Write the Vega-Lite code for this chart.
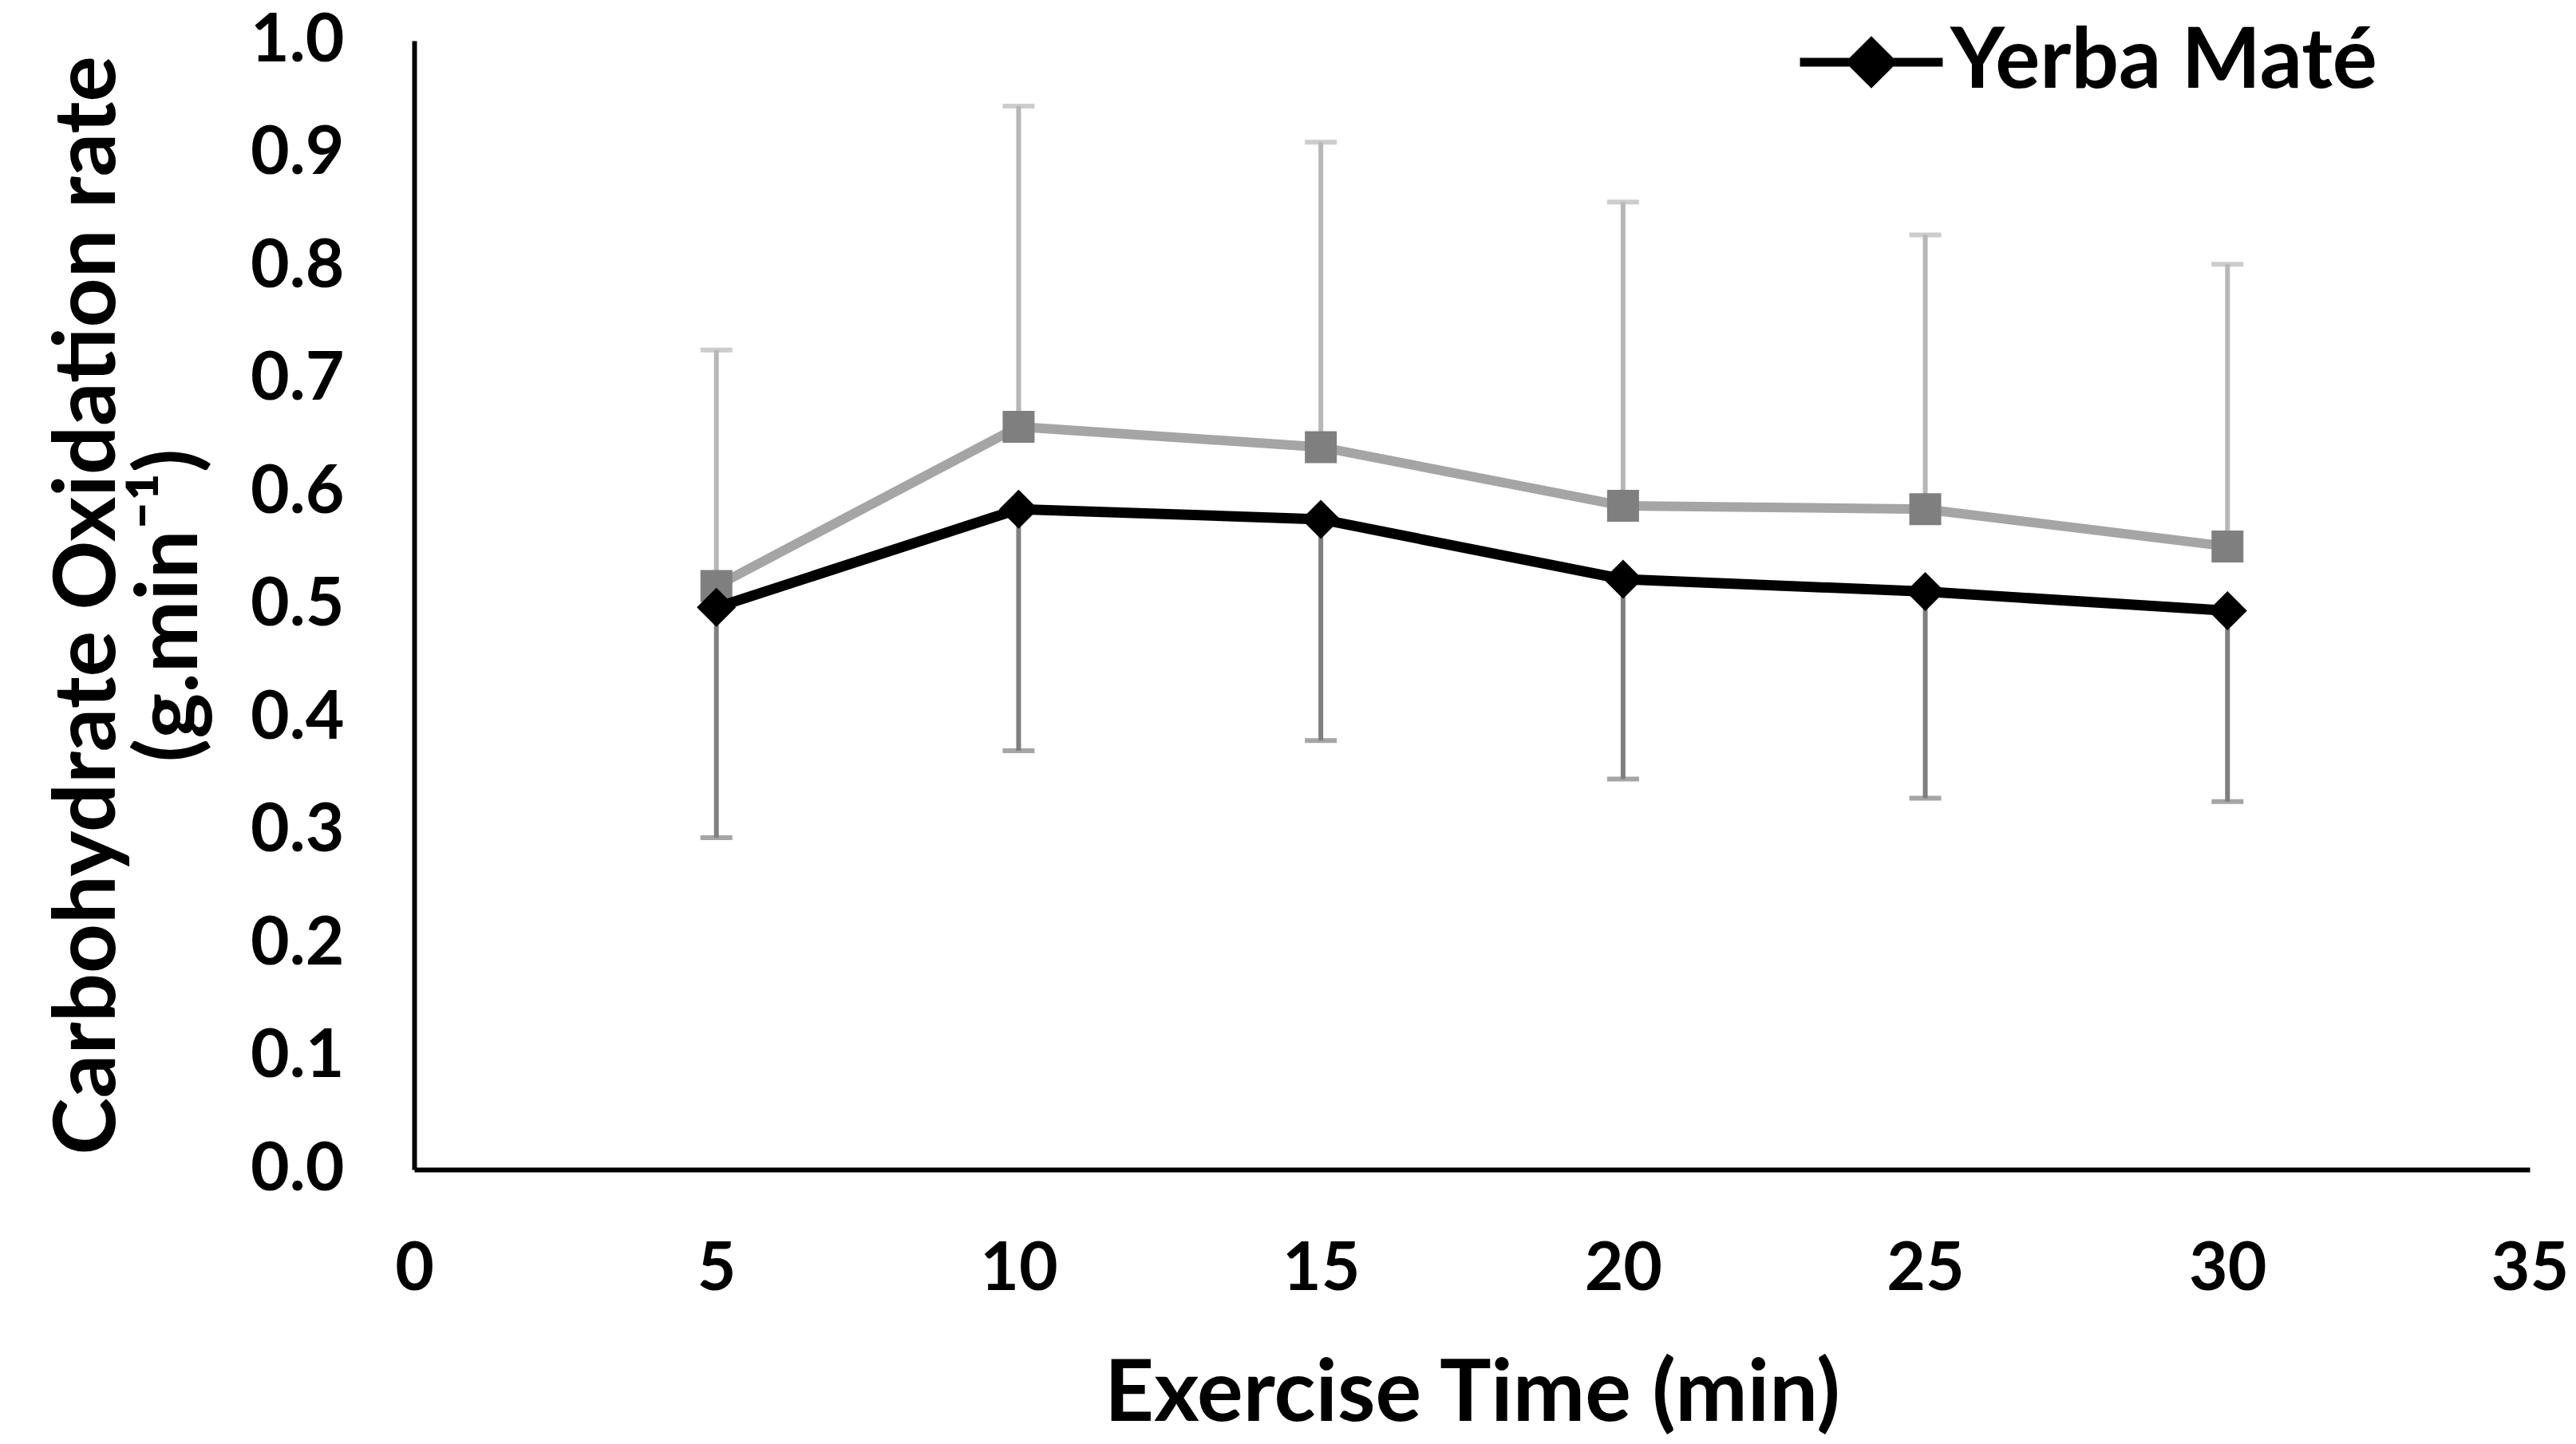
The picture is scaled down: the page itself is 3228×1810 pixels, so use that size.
{
  "$schema": "https://vega.github.io/schema/vega-lite/v6.json",
  "width": 2651,
  "height": 1415,
  "autosize": {"type": "none"},
  "padding": {"left": 519, "top": 51, "right": 58, "bottom": 344},
  "background": "white",
  "config": {
    "view": {"stroke": null},
    "font": "Lato",
    "axis": {
      "domainColor": "black",
      "domainWidth": 6,
      "ticks": false,
      "tickSize": 0,
      "grid": false,
      "labelFont": "Lato",
      "labelFontSize": 84,
      "labelFontWeight": "bold",
      "labelColor": "black",
      "titleFont": "Lato",
      "titleFontSize": 108,
      "titleFontWeight": "bold",
      "titleColor": "black"
    }
  },
  "data": {
    "values": [
      {"time": 5, "ym": 0.498, "ym_lo": 0.294, "pl": 0.517, "pl_hi": 0.726},
      {"time": 10, "ym": 0.585, "ym_lo": 0.371, "pl": 0.658, "pl_hi": 0.942},
      {"time": 15, "ym": 0.576, "ym_lo": 0.380, "pl": 0.640, "pl_hi": 0.910},
      {"time": 20, "ym": 0.523, "ym_lo": 0.346, "pl": 0.588, "pl_hi": 0.857},
      {"time": 25, "ym": 0.512, "ym_lo": 0.329, "pl": 0.585, "pl_hi": 0.828},
      {"time": 30, "ym": 0.495, "ym_lo": 0.326, "pl": 0.552, "pl_hi": 0.802}
    ]
  },
  "encoding": {
    "x": {
      "field": "time",
      "type": "quantitative",
      "scale": {"domain": [0, 35], "nice": false, "zero": true},
      "axis": {
        "title": "Exercise Time (min)",
        "values": [0, 5, 10, 15, 20, 25, 30, 35],
        "labelPadding": 84,
        "titlePadding": 62,
        "labelFlush": false
      }
    }
  },
  "layer": [
    {
      "mark": {"type": "rule", "color": "#B7B7B7", "strokeWidth": 6},
      "encoding": {
        "y": {"field": "pl", "type": "quantitative"},
        "y2": {"field": "pl_hi"}
      }
    },
    {
      "mark": {"type": "tick", "orient": "horizontal", "color": "#B7B7B7", "size": 40, "thickness": 6},
      "encoding": {"y": {"field": "pl_hi", "type": "quantitative"}}
    },
    {
      "mark": {"type": "rule", "color": "#7F7F7F", "strokeWidth": 6},
      "encoding": {
        "y": {"field": "ym", "type": "quantitative"},
        "y2": {"field": "ym_lo"}
      }
    },
    {
      "mark": {"type": "tick", "orient": "horizontal", "color": "#7F7F7F", "size": 40, "thickness": 6},
      "encoding": {"y": {"field": "ym_lo", "type": "quantitative"}}
    },
    {
      "mark": {"type": "line", "color": "#A5A5A5", "strokeWidth": 12},
      "encoding": {"y": {"field": "pl", "type": "quantitative"}}
    },
    {
      "mark": {"type": "point", "shape": "square", "filled": true, "color": "#7F7F7F", "opacity": 1, "size": 1600},
      "encoding": {"y": {"field": "pl", "type": "quantitative"}}
    },
    {
      "mark": {"type": "line", "strokeWidth": 13},
      "encoding": {
        "y": {
          "field": "ym",
          "type": "quantitative",
          "scale": {"domain": [0, 1], "nice": false},
          "axis": {
            "title": ["Carbohydrate Oxidation rate", "(g.min⁻¹)"],
            "values": [0, 0.1, 0.2, 0.3, 0.4, 0.5, 0.6, 0.7, 0.8, 0.9, 1.0],
            "format": ".1f",
            "labelPadding": 88,
            "titlePadding": 50,
            "titleLineHeight": 103,
            "labelFlush": false
          }
        },
        "color": {
          "datum": "Yerba Maté",
          "scale": {"domain": ["Yerba Maté"], "range": ["black"]},
          "legend": {
            "title": null,
            "orient": "none",
            "legendX": 1731,
            "legendY": -68,
            "labelFont": "Lato",
            "labelFontSize": 105,
            "labelFontWeight": "bold",
            "labelColor": "black",
            "labelLimit": 0,
            "labelOffset": 4,
            "symbolSize": 32000,
            "symbolStrokeWidth": 11,
            "encode": {
              "symbols": {
                "update": {
                  "shape": {"value": "M-1,0L1,0M-0.28,0L0,-0.28L0.28,0L0,0.28Z"},
                  "fill": {"value": "black"},
                  "stroke": {"value": "black"},
                  "strokeWidth": {"value": 11},
                  "opacity": {"value": 1}
                }
              }
            }
          }
        }
      }
    },
    {
      "mark": {"type": "point", "shape": "diamond", "filled": true, "color": "black", "opacity": 1, "size": 2400},
      "encoding": {"y": {"field": "ym", "type": "quantitative"}}
    }
  ]
}
